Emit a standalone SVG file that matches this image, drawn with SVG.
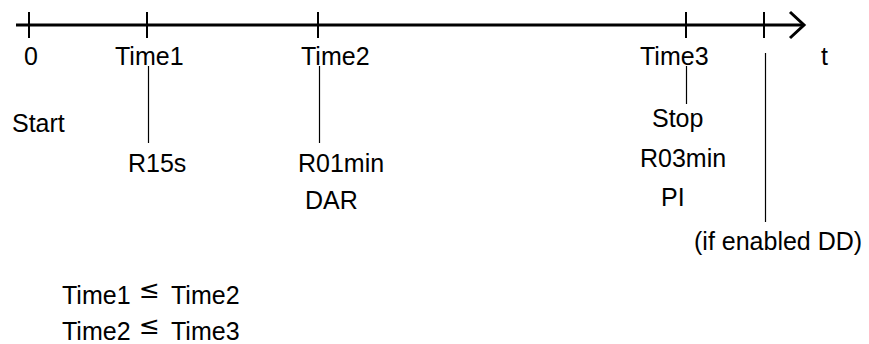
<svg xmlns="http://www.w3.org/2000/svg" width="869" height="344" viewBox="0 0 869 344">
<style>
text{font-family:"Liberation Sans",Arial,sans-serif;font-size:25px;fill:#000}
.ax{stroke:#000;stroke-width:3;fill:none}
.tk{stroke:#000;stroke-width:2;fill:none}
.ln{stroke:#000;stroke-width:1.2;fill:none}
text.le{font-family:"DejaVu Sans",sans-serif;font-size:25px}
</style>
<rect width="869" height="344" fill="#fff"/>
<g id="connectors">
<line class="ax" x1="16" y1="25" x2="804" y2="25"/>
<polyline class="ax" points="790,12 804,25 790,38"/>
<line class="tk" x1="29" y1="12" x2="29" y2="38"/>
<line class="tk" x1="147" y1="12" x2="147" y2="38"/>
<line class="tk" x1="318" y1="12" x2="318" y2="38"/>
<line class="tk" x1="686" y1="12" x2="686" y2="38"/>
<line class="tk" x1="764" y1="12" x2="764" y2="38"/>
<line class="ln" x1="148.5" y1="66" x2="148.5" y2="143"/>
<line class="ln" x1="319.5" y1="66" x2="319.5" y2="143"/>
<line class="ln" x1="686.5" y1="66" x2="686.5" y2="104"/>
<line class="ln" x1="765.5" y1="53" x2="765.5" y2="222"/>
</g>
<g id="t0"><text x="24" y="65">0</text><text x="12" y="132">Start</text></g>
<g id="time1"><text x="115" y="65">Time1</text><text x="128" y="172">R15s</text></g>
<g id="time2"><text x="301" y="65">Time2</text><text x="298" y="172">R01min</text><text x="305" y="209">DAR</text></g>
<g id="time3"><text x="640" y="65">Time3</text><text x="652" y="127">Stop</text><text x="640" y="167">R03min</text><text x="661" y="206">PI</text></g>
<g id="dd"><text x="694" y="250">(if enabled DD)</text></g>
<g id="tlabel"><text x="821" y="65">t</text></g>
<g id="constraints">
<text x="62" y="304">Time1</text><text class="le" x="139" y="298">≤</text><text x="171" y="304">Time2</text>
<text x="62" y="340">Time2</text><text class="le" x="139" y="334">≤</text><text x="171" y="340">Time3</text>
</g>
</svg>
